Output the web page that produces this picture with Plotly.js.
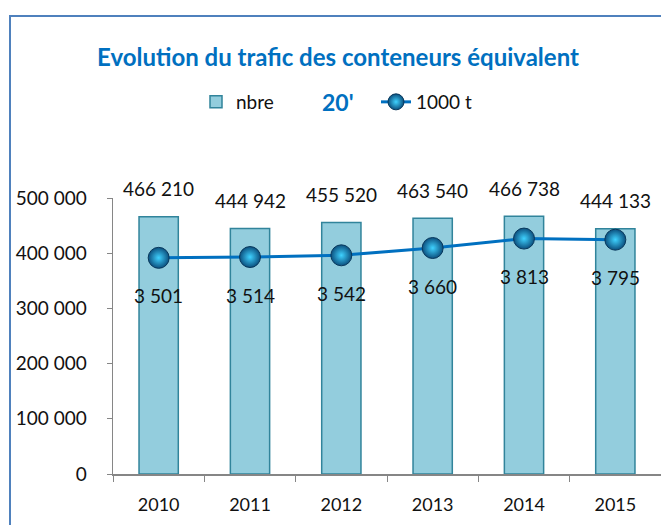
<!DOCTYPE html>
<html>
<head>
<meta charset="utf-8">
<script src="https://cdn.plot.ly/plotly-3.0.1.min.js"></script>
<style>html,body{margin:0;padding:0;background:#fff;}#chart{width:661px;height:525px;}</style>
</head>
<body>
<div id="chart"></div>
<script>
var years = ['2010', '2011', '2012', '2013', '2014', '2015'];
var nbre = [466210, 444942, 455520, 463540, 466738, 444133];
var tonnes = [3501, 3514, 3542, 3660, 3813, 3795];
var yTicks = [0, 100000, 200000, 300000, 400000, 500000];

function fmt(v) { return String(v).replace(/\B(?=(\d{3})+(?!\d))/g, ' '); }

var FONT = 'Lato, "Open Sans", sans-serif';
var W = 661, H = 525, L = 113, R = 0, T = 198, B = 51;
var pw = W - L - R, ph = H - T - B;
function px(x) { return (x - L) / pw; }
function py(y) { return (H - B - y) / ph; }

var barTrace = {
  type: 'bar', x: years, y: nbre, name: 'nbre', width: 0.43,
  marker: { color: '#93CDDD', line: { color: '#31849B', width: 1.5 } },
  hoverinfo: 'skip', legend: 'legend'
};
var lineTrace = {
  type: 'scatter', mode: 'lines+markers', x: years, y: tonnes, yaxis: 'y2', name: '1000 t',
  line: { color: '#0070C0', width: 3 },
  marker: { size: 21, color: '#0B4F7E', gradient: { type: 'radial', color: '#3FD2FF' }, line: { color: '#08385C', width: 1 } },
  hoverinfo: 'skip', legend: 'legend2', cliponaxis: false
};

var annotations = [];
years.forEach(function (yr, i) {
  annotations.push({ x: i, y: nbre[i], xref: 'x', yref: 'y', text: fmt(nbre[i]), showarrow: false,
    yshift: 28, font: { family: FONT, size: 19, color: '#111' } });
  annotations.push({ x: i, y: tonnes[i], xref: 'x', yref: 'y2', text: fmt(tonnes[i]), showarrow: false,
    yshift: -38, font: { family: FONT, size: 19, color: '#111' } });
});
annotations.push({ xref: 'paper', yref: 'paper', x: px(338), y: py(102), text: "<b>20'</b>", showarrow: false,
  xanchor: 'center', yanchor: 'middle', font: { family: FONT, size: 23, color: '#0070C0' } });

var layout = {
  width: W, height: H,
  margin: { l: L, r: R, t: T, b: B, pad: 0 },
  paper_bgcolor: '#fff', plot_bgcolor: '#fff',
  separators: ', ',
  font: { family: FONT, size: 19, color: '#111' },
  title: { text: '<b>Evolution du trafic des conteneurs équivalent</b>', xref: 'container', yref: 'container',
    x: 338 / W, xanchor: 'center', y: 1 - 58 / H, yanchor: 'middle',
    font: { family: FONT, size: 24, color: '#0070C0' } },
  xaxis: { type: 'category', categoryorder: 'array', categoryarray: years, range: [-0.5, 5.5], autorange: false,
    showgrid: false, zeroline: false, showline: true, linecolor: '#868686', linewidth: 1.5,
    ticks: 'outside', tickson: 'boundaries', ticklen: 6, tickcolor: '#868686', ticklabelstandoff: 14,
    tickangle: 0, tickfont: { family: FONT, size: 18, color: '#111' }, fixedrange: true },
  yaxis: { range: [0, 500000], autorange: false, tickvals: yTicks, ticktext: yTicks.map(fmt), showgrid: false, zeroline: false,
    showline: true, linecolor: '#868686', linewidth: 1.5, ticks: 'outside', ticklen: 5, tickcolor: '#868686',
    ticklabelstandoff: 16, tickfont: { family: FONT, size: 19, color: '#111' }, fixedrange: true },
  yaxis2: { overlaying: 'y', range: [0, 4470], autorange: false, visible: false, fixedrange: true },
  showlegend: true,
  legend: { orientation: 'h', xref: 'container', yref: 'container', x: 196 / W, y: 1 - 102 / H, xanchor: 'left', yanchor: 'middle',
    font: { family: FONT, size: 19, color: '#111' }, bgcolor: 'rgba(0,0,0,0)' },
  legend2: { orientation: 'h', xref: 'container', yref: 'container', x: 376 / W, y: 1 - 102 / H, xanchor: 'left', yanchor: 'middle',
    font: { family: FONT, size: 19, color: '#111' }, bgcolor: 'rgba(0,0,0,0)' },
  annotations: annotations,
  shapes: [{ type: 'rect', xref: 'paper', yref: 'paper', x0: px(10), x1: px(700), y0: py(560), y1: py(16),
    line: { color: '#4F81BD', width: 2 }, fillcolor: 'rgba(0,0,0,0)', layer: 'below' }]
};

Plotly.newPlot('chart', [barTrace, lineTrace], layout, { displayModeBar: false, staticPlot: true });
</script>
</body>
</html>
